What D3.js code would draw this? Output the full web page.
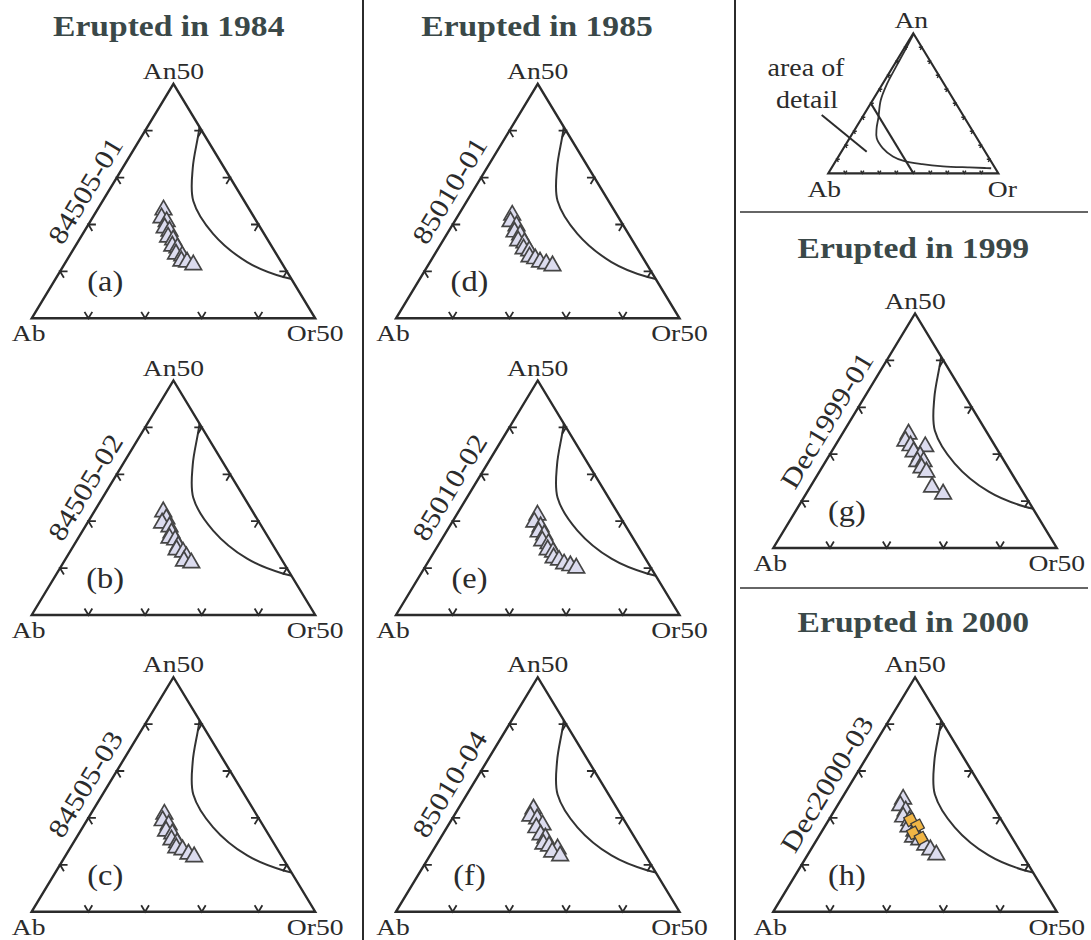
<!DOCTYPE html>
<html><head><meta charset="utf-8">
<script src="https://cdn.jsdelivr.net/npm/d3@7"></script>
<style>
html,body{margin:0;padding:0;background:#fff;}
svg{display:block;}
text{font-family:"Liberation Serif","Times New Roman",serif;}
</style></head><body>
<svg id="chart" width="1091" height="940"></svg>
<script>
// Ternary feldspar solvus, [An %, Or %]
const solvus = [[99,0.5],[88,1.2],[76,1.8],[64,2.6],[52,4.8],[40,9.5],[32,12.4],[25,16],[18,23],[12,32],[8.8,40],[6.5,52],[5,65],[4.2,80],[3.8,90],[3.6,94]];

// Feldspar compositions per sample, [An %, Or %]
const s84505_01 = [[23.1,11.7],[21.4,12.2],[20.6,13.5],[19.3,13.8],[18.6,15.0],[17.3,15.4],[16.7,16.6],[15.4,17.1],[15.0,18.2],[13.7,18.6],[13.3,19.9],[12.2,20.3],[12.0,21.4],[11.4,22.8]];
const s84505_02 = [[22.0,12.2],[20.5,13.5],[19.6,13.2],[18.8,14.9],[17.5,15.9],[16.4,16.1],[16.0,17.3],[14.7,18.5],[13.9,18.6],[13.4,20.0],[12.4,21.1],[11.5,21.1],[11.1,22.6]];
const s84505_03 = [[20.8,13.0],[19.4,13.4],[18.5,14.9],[17.2,15.1],[16.6,16.5],[15.3,17.0],[14.7,18.3],[13.6,18.7],[13.2,20.0],[12.3,21.5],[11.7,22.8]];
const s85010_01 = [[22.0,9.5],[20.6,9.9],[19.7,11.4],[18.4,11.7],[17.8,13.0],[16.5,13.3],[16.1,14.6],[14.8,15.1],[14.4,16.3],[13.1,17.0],[12.7,18.2],[12.0,19.4],[11.6,20.7],[11.2,22.0]];
const s85010_02 = [[21.3,14.3],[19.8,14.5],[18.8,16.1],[17.7,16.3],[17.1,17.6],[15.8,17.9],[15.2,19.3],[13.9,19.8],[13.4,21.0],[12.2,21.7],[11.7,22.9],[10.9,24.2],[10.5,25.5],[10.0,26.8]];
const s85010_04 = [[21.9,13.3],[20.4,13.5],[19.8,15.0],[18.5,16.6],[17.9,15.8],[16.4,17.3],[15.7,18.5],[14.4,18.8],[14.0,20.0],[13.4,21.8],[12.7,21.2],[11.9,23.0]];
const sDec1999_01 = [[24.3,11.7],[22.8,11.9],[21.8,13.3],[21.6,16.0],[20.5,14.5],[19.6,16.1],[18.4,16.2],[18.4,17.3],[17.1,17.6],[16.2,18.9],[13.0,21.5],[11.5,24.2]];
const sDec2000_03 = [[24.0,10.9],[22.6,11.1],[21.5,12.6],[20.2,12.8],[19.4,14.3],[18.1,14.8],[17.2,16.3],[15.9,16.7],[15.3,18.1],[14.2,19.7],[13.2,21.1],[12.1,22.7]];
// Second population in Dec2000-03 (squares)
const qDec2000_03 = [[19.6,14.4],[18.3,16.3],[16.8,16.3],[15.7,18.2]];

const sampleNames = ["84505-01","84505-02","84505-03","85010-01","85010-02","85010-04","Dec1999-01","Dec2000-03"];
const panelLetters = ["(a)","(b)","(c)","(d)","(e)","(f)","(g)","(h)"];
const titles = ["Erupted in 1984","Erupted in 1985","Erupted in 1999","Erupted in 2000"];
const detailVertexLabels = ["Ab","An50","Or50"];
const fullVertexLabels = ["Ab","An","Or"];
const detailTicks = [10,20,30,40];
const fullTicks = [10,20,30,40,50,60,70,80,90];
const insetNote = ["area of","detail"];

const INK = "#2b2b2b", TITLE = "#3a4848";
const svg = d3.select("#chart");

function unit(p,q){const dx=q[0]-p[0],dy=q[1]-p[1],l=Math.hypot(dx,dy);return [dx/l,dy/l];}

function stretchedText(g, x, y, str, size, sx, opts={}){
  return g.append("text")
    .attr("transform",`translate(${x},${y}) scale(${sx},1)`)
    .attr("text-anchor", opts.anchor||"middle")
    .attr("font-size", size)
    .attr("font-weight", opts.weight||"normal")
    .attr("fill", opts.fill||INK)
    .text(str);
}

// Ternary frame: maxPct is the An/Or extent of the triangle (50 for detail, 100 for full)
function ternaryFrame(x0, y0, W, H, maxPct){
  const orX = d3.scaleLinear().domain([0,maxPct]).range([0,W]);
  const anX = d3.scaleLinear().domain([0,maxPct]).range([0,W/2]);
  const anY = d3.scaleLinear().domain([0,maxPct]).range([y0,y0-H]);
  const pos = (an,or) => [x0 + anX(an) + orX(or), anY(an)];
  return {pos, A:pos(0,0), B:pos(maxPct,0), C:pos(0,maxPct)};
}

function drawTicks(g, f, vals, maxPct, len, width){
  const {A,B,C,pos} = f;
  const edges = [
    {pts: vals.map(v=>pos(0,v)), o:B, v1:A, v2:C},
    {pts: vals.map(v=>pos(v,0)), o:C, v1:A, v2:B},
    {pts: vals.map(v=>pos(v,maxPct-v)), o:A, v1:B, v2:C}
  ];
  edges.forEach(e=>{
    const d1 = unit(e.v1,e.o), d2 = unit(e.v2,e.o);
    g.selectAll(null).data(e.pts).join("path")
      .attr("d", p=>`M${p[0]+d1[0]*len},${p[1]+d1[1]*len}L${p[0]},${p[1]}L${p[0]+d2[0]*len},${p[1]+d2[1]*len}`)
      .attr("fill","none").attr("stroke",INK).attr("stroke-width",width);
  });
}

let clipId = 0;
function detailPanel(x0, y0, pts, squares, name, letter){
  const W = 283.5, H = 234.5;
  const f = ternaryFrame(x0, y0, W, H, 50);
  const g = svg.append("g");
  const tri = `M${f.A}L${f.B}L${f.C}Z`;
  const cid = "clip"+(clipId++);
  g.append("clipPath").attr("id",cid).append("path").attr("d",tri);

  // solvus
  const line = d3.line().x(d=>f.pos(d[0],d[1])[0]).y(d=>f.pos(d[0],d[1])[1]).curve(d3.curveCatmullRom.alpha(0.5));
  g.append("path").attr("d",line(solvus)).attr("clip-path",`url(#${cid})`)
    .attr("fill","none").attr("stroke","#333").attr("stroke-width",2);

  drawTicks(g, f, detailTicks, 50, 7.5, 1.8);
  g.append("path").attr("d",tri).attr("fill","none").attr("stroke",INK).attr("stroke-width",2.4).attr("stroke-linejoin","miter");

  // feldspar points
  const sym = d3.symbol(d3.symbolTriangle, 118);
  g.selectAll(null).data(pts).join("path")
    .attr("d", sym)
    .attr("transform", d=>{const p=f.pos(d[0],d[1]);return `translate(${p[0]},${p[1]})`;})
    .attr("fill","#dcdcef").attr("stroke","#454545").attr("stroke-width",1.7);
  if (squares){
    const sq = d3.symbol(d3.symbolSquare, 100);
    g.selectAll(null).data(squares).join("path")
      .attr("d", sq)
      .attr("transform", d=>{const p=f.pos(d[0],d[1]);return `translate(${p[0]},${p[1]}) rotate(-28)`;})
      .attr("fill","#f0b545").attr("stroke","#3a3a3a").attr("stroke-width",1.3);
  }

  // vertex labels
  stretchedText(g, f.B[0], f.B[1]-5, detailVertexLabels[1], 24, 1.15);
  stretchedText(g, f.A[0]-3, f.A[1]+23, detailVertexLabels[0], 24, 1.15);
  stretchedText(g, f.C[0], f.C[1]+23, detailVertexLabels[2], 24, 1.15);

  // sample name along the Ab–An50 edge
  const d = unit(f.A,f.B), ang = Math.atan2(d[1],d[0])*180/Math.PI;
  const t = 0.5, off = 11;
  const px = f.A[0]+(f.B[0]-f.A[0])*t + d[1]*off, py = f.A[1]+(f.B[1]-f.A[1])*t - d[0]*off;
  g.append("text").attr("transform",`translate(${px},${py}) rotate(${ang}) scale(1.15,1)`)
    .attr("text-anchor","middle").attr("font-size",27).attr("fill",INK).text(name);

  // panel letter
  g.append("text").attr("transform",`translate(${x0+73.5},${y0-27}) scale(1.08,1)`).attr("text-anchor","middle")
    .attr("font-size",30).attr("fill",INK).text(letter);
}

// Layout
const colX = [31.7, 396, 773.3];
const rowY = [318.3, 615, 911.7];
const samples = [s84505_01,s84505_02,s84505_03,s85010_01,s85010_02,s85010_04];
samples.forEach((s,i)=>{
  const c = Math.floor(i/3), r = i%3;
  detailPanel(colX[c], rowY[r], s, null, sampleNames[i], panelLetters[i]);
});
detailPanel(colX[2], 548, sDec1999_01, null, sampleNames[6], panelLetters[6]);
detailPanel(colX[2], 911.7, sDec2000_03, qDec2000_03, sampleNames[7], panelLetters[7]);

// Titles
const titlePos = [[31.7+137,36],[396+141,36],[773.3+140,258],[773.3+140,632]];
titles.forEach((tt,i)=>stretchedText(svg, titlePos[i][0], titlePos[i][1], tt, 30, 1.12, {weight:"bold", fill:TITLE}));

// Separators
svg.append("line").attr("x1",363).attr("x2",363).attr("y1",0).attr("y2",940).attr("stroke",INK).attr("stroke-width",2);
svg.append("line").attr("x1",735).attr("x2",735).attr("y1",0).attr("y2",940).attr("stroke",INK).attr("stroke-width",2);
svg.append("line").attr("x1",740).attr("x2",1088).attr("y1",212).attr("y2",212).attr("stroke","#666").attr("stroke-width",2);
svg.append("line").attr("x1",740).attr("x2",1088).attr("y1",588).attr("y2",588).attr("stroke","#666").attr("stroke-width",2);

// Overview triangle An–Ab–Or showing the area of detail
(function(){
  const f = ternaryFrame(828.3, 173.3, 170, 140, 100);
  const g = svg.append("g");
  const line = d3.line().x(d=>f.pos(d[0],d[1])[0]).y(d=>f.pos(d[0],d[1])[1]).curve(d3.curveCatmullRom.alpha(0.5));
  g.append("path").attr("d",line(solvus)).attr("fill","none").attr("stroke","#333").attr("stroke-width",1.8);
  drawTicks(g, f, fullTicks, 100, 3, 1.5);
  // boundary of the detail region: An50–Or50
  const p1 = f.pos(50,0), p2 = f.pos(0,50);
  g.append("line").attr("x1",p1[0]).attr("y1",p1[1]).attr("x2",p2[0]).attr("y2",p2[1]).attr("stroke",INK).attr("stroke-width",2.2);
  g.append("path").attr("d",`M${f.A}L${f.B}L${f.C}Z`).attr("fill","none").attr("stroke",INK).attr("stroke-width",2.2);
  stretchedText(g, f.B[0]-2, f.B[1]-5, fullVertexLabels[1], 24, 1.15);
  stretchedText(g, f.A[0]-4, f.A[1]+24, fullVertexLabels[0], 24, 1.15);
  stretchedText(g, f.C[0]+4, f.C[1]+24, fullVertexLabels[2], 24, 1.15);
  stretchedText(g, 806, 76, insetNote[0], 25, 1.12);
  stretchedText(g, 807, 108, insetNote[1], 25, 1.12);
  g.append("line").attr("x1",821.7).attr("y1",115).attr("x2",866.7).attr("y2",151.7).attr("stroke",INK).attr("stroke-width",2);
})();
</script>
</body></html>
